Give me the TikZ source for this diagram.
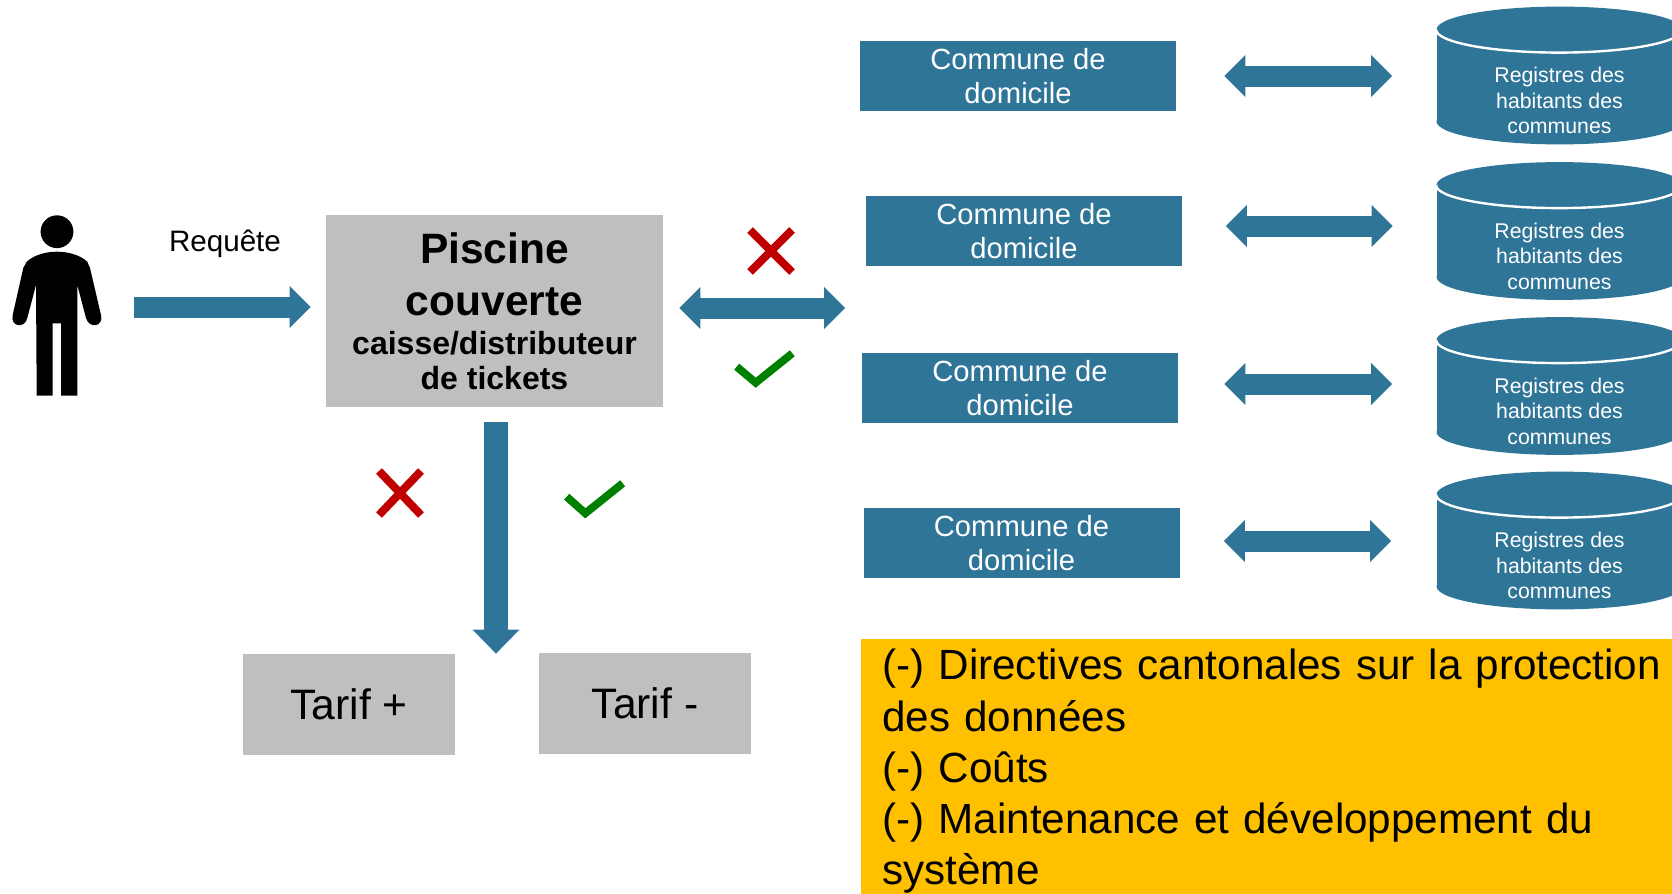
\documentclass[tikz,border=0pt]{standalone}
\usepackage{fontspec}
\setmainfont{Liberation Sans}
\usepackage{tikz}
\usetikzlibrary{arrows.meta,positioning,calc}
\definecolor{flowblue}{HTML}{2F7598}
\definecolor{boxgrey}{HTML}{BFBFBF}
\definecolor{noteorange}{HTML}{FFC000}
\definecolor{crossred}{HTML}{C00000}
\definecolor{checkgreen}{HTML}{008000}

\begin{document}
\begin{tikzpicture}[
    x=0.5pt,y=-0.5pt,
    communebox/.style={rectangle,fill=flowblue,text=white,align=center,inner sep=0pt,minimum width=158pt,minimum height=35pt,font=\fontsize{14.6pt}{17.4pt}\selectfont},
    regbody/.style={rectangle,fill=flowblue,inner sep=0pt,minimum width=123pt,minimum height=45.5pt},
    regtext/.style={text=white,align=center,inner sep=0pt,font=\fontsize{10.65pt}{12.8pt}\selectfont},
    tarifbox/.style={rectangle,fill=boxgrey,inner sep=0pt,minimum width=106pt,minimum height=50.5pt,font=\fontsize{21.3pt}{24pt}\selectfont},
    flowarrow/.style={draw=flowblue,line width=10.5pt,-{Triangle[length=10.5pt,width=21pt,line width=0pt]}},
    flowboth/.style={draw=flowblue,line width=10.5pt,{Triangle[length=10.5pt,width=21pt,line width=0pt]}-{Triangle[length=10.5pt,width=21pt,line width=0pt]}},
    crossmark/.style={draw=crossred,line width=4pt},
    checkmark/.style={draw=checkgreen,line width=3.9pt,miter limit=4}]
    \useasboundingbox (0,0) rectangle (1672,894);
    \clip (0,0) rectangle (1672,894);
    % person
    \node[inner sep=0pt,minimum width=45pt,minimum height=91pt] (person) at (57,307) {};
    \fill (57,231.7) circle (8.2pt);
    \fill (57,251.7) .. controls (48,251.7) and (35,254) .. (26.7,261.7) -- (23.3,268) -- (12.7,315) .. controls (10,327) and (25,329) .. (27.3,318) -- (36,285) -- (36.7,395.7) -- (52.7,395.7) -- (52.7,323.3) -- (61,323.3) -- (61,395.7) -- (77.3,395.7) -- (77.3,285) -- (86,318) .. controls (89,329) and (104,327) .. (101,315) -- (90,268) -- (87.3,261.7) .. controls (79,254) and (66,251.7) .. (57,251.7) -- cycle;
    % centre
    \node[rectangle,fill=boxgrey,inner sep=0pt,minimum width=168.5pt,minimum height=96pt,align=center,font=\bfseries] (piscine) at (494.5,311) {\fontsize{21.25pt}{26pt}\selectfont Piscine\\[10.7pt]\fontsize{21.25pt}{26pt}\selectfont couverte\\[7.7pt]\fontsize{16pt}{19pt}\selectfont caisse/distributeur\\[5.3pt]\fontsize{16pt}{19pt}\selectfont de tickets};
    \node[tarifbox] (tarifplus) at (349,704.5) {Tarif +};
    \node[tarifbox] (tarifminus) at (645,703.5) {Tarif -};
    \node[communebox] (comm1) at (1018,76) {Commune de\\domicile};
    \node[communebox] (comm2) at (1024,231) {Commune de\\domicile};
    \node[communebox] (comm3) at (1020,388) {Commune de\\domicile};
    \node[communebox] (comm4) at (1021.5,543) {Commune de\\domicile};
    % registers
    \foreach \n/\cx/\cy in {1/1559.5/75.5,2/1559.5/231,3/1559.5/386,4/1559.5/540.5}{
      \node[regbody] (reg\n) at (\cx,\cy) {};
      \fill[flowblue] (reg\n.north) ellipse [x radius=61.5pt,y radius=11.5pt];
      \fill[flowblue] (reg\n.south) ellipse [x radius=61.5pt,y radius=11.5pt];
      \draw[white,line width=1.2pt] (reg\n.north west) arc [start angle=180,end angle=360,x radius=61.5pt,y radius=11.5pt];
      \node[regtext] (regtxt\n) at ([yshift=-12.5pt]reg\n.center) {Registres des\\habitants des\\communes};
    }
    \node[inner sep=0pt,font=\fontsize{14.8pt}{17pt}\selectfont] (requete) at (225,244) {Requête};
    \draw[flowarrow] ([xshift=16pt]person.east) -- ([xshift=-7.5pt]person.east -| piscine.west);
    \draw[flowboth] ([xshift=8pt,yshift=1.5pt]piscine.east) -- ([xshift=-7.25pt,yshift=1.5pt]piscine.east -| comm1.west);
    \draw[flowarrow,line width=12pt,-{Triangle[length=12pt,width=23.5pt,line width=0pt]}] ([xshift=.75pt,yshift=-7.5pt]piscine.south) -- ([xshift=.75pt]piscine.south |- tarifplus.north);
    \draw[flowboth] ([xshift=24pt]comm1.east) -- ([xshift=-22pt]comm1.east -| reg1.west);
    \draw[flowboth] ([xshift=21.7pt,yshift=2.5pt]comm2.east) -- ([xshift=-21.7pt,yshift=2.5pt]comm2.east -| reg2.west);
    \draw[flowboth] ([xshift=23pt,yshift=2pt]comm3.east) -- ([xshift=-22pt,yshift=2pt]comm3.east -| reg3.west);
    \draw[flowboth] ([xshift=22pt,yshift=1pt]comm4.east) -- ([xshift=-22.5pt,yshift=1pt]comm4.east -| reg4.west);
    % marks
    \draw[crossmark] (750,230) -- (792,272) (792,230) -- (750,272);
    \draw[crossmark] (379,471) -- (421,515) (421,471) -- (379,515);
    \draw[checkmark] (736.7,366.7) -- (755.7,382.7) -- (792.3,353.3);
    \draw[checkmark] (566.7,496.7) -- (585.3,513.3) -- (622.7,483.3);
    % note
    \node[rectangle,fill=noteorange,anchor=north west,inner xsep=10.5pt,inner ysep=0pt,minimum height=132pt,text width=395pt,align=left,font=\fontsize{21.1pt}{25.6pt}\selectfont] (note) at (861,639) {(-) Directives cantonales sur la protection\\des données\\(-) Coûts\\(-) Maintenance et développement du\\système};
  \end{tikzpicture}
\end{document}
